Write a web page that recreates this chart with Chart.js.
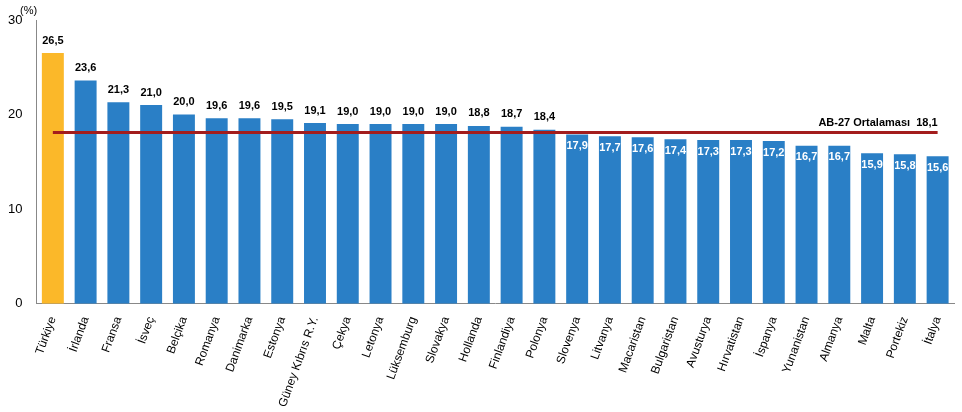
<!DOCTYPE html>
<html><head><meta charset="utf-8">
<script src="https://cdn.jsdelivr.net/npm/chart.js@4/dist/chart.umd.min.js"></script>
<style>html,body{margin:0;background:#fff}#w{width:962px;height:412px}</style>
</head><body><div id="w"><canvas id="c"></canvas></div>
<script>
const categories=["Türkiye","İrlanda","Fransa","İsveç","Belçika","Romanya","Danimarka","Estonya","Güney Kıbrıs R.Y.","Çekya","Letonya","Lüksemburg","Slovakya","Hollanda","Finlandiya","Polonya","Slovenya","Litvanya","Macaristan","Bulgaristan","Avusturya","Hırvatistan","İspanya","Yunanistan","Almanya","Malta","Portekiz","İtalya"];
const values=[26.5,23.6,21.3,21.0,20.0,19.6,19.6,19.5,19.1,19.0,19.0,19.0,19.0,18.8,18.7,18.4,17.9,17.7,17.6,17.4,17.3,17.3,17.2,16.7,16.7,15.9,15.8,15.6];
const average=18.1;
const averageLabel="AB-27 Ortalaması  18,1";
const yTicks=[0,10,20,30];
const fmt=v=>v.toFixed(1).replace('.',',');
const font="Liberation Sans, Arial, sans-serif";
const labelPlugin={id:'lbl',afterDatasetsDraw(ch){
  const ctx=ch.ctx;const meta=ch.getDatasetMeta(0);
  ctx.save();ctx.font="bold 11px "+font;ctx.textAlign='center';
  meta.data.forEach((b,i)=>{const v=values[i];
    if(v>average){ctx.fillStyle='#000';ctx.textBaseline='bottom';ctx.fillText(fmt(v),b.x,b.y-7);}
    else{ctx.fillStyle='#fff';ctx.textBaseline='top';ctx.fillText(fmt(v),b.x,b.y+6);}
  });
  const lm=ch.getDatasetMeta(1);const last=lm.data[lm.data.length-1];
  ctx.fillStyle='#000';ctx.textAlign='right';ctx.textBaseline='bottom';
  ctx.fillText(averageLabel,last.x,last.y-4);
  ctx.font="11px "+font;ctx.textAlign='left';ctx.fillText('(%)',20,16);
  ctx.restore();}};
new Chart(document.getElementById('c'),{
 data:{labels:categories,datasets:[
  {type:'bar',data:values,backgroundColor:values.map((v,i)=>i===0?'#FBB829':'#2A7FC6'),categoryPercentage:1,barPercentage:0.67,order:2},
  {type:'line',data:categories.map(()=>average),borderColor:'#A31D1D',borderWidth:3,pointRadius:0,order:1}
 ]},
 options:{responsive:true,maintainAspectRatio:false,animation:false,
  layout:{padding:{top:20,right:8,left:2,bottom:0}},
  plugins:{legend:{display:false},tooltip:{enabled:false}},
  scales:{
   x:{grid:{display:false},border:{color:'#888'},ticks:{color:'#000',font:{family:font,size:12},maxRotation:70,minRotation:70,autoSkip:false}},
   y:{min:0,max:30,afterBuildTicks(a){a.ticks=yTicks.map(v=>({value:v}));},grid:{display:false,drawTicks:true},border:{color:'#888'},ticks:{color:'#000',font:{family:font,size:13},padding:6}}
  }},
 plugins:[labelPlugin]});
</script></body></html>
